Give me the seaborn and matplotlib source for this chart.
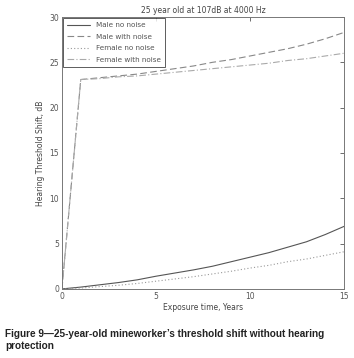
import numpy as np
import pandas as pd
import matplotlib
matplotlib.use("Agg")
import matplotlib.pyplot as plt
import seaborn as sns

years = [0, 1, 2, 3, 4, 5, 6, 7, 8, 9, 10, 11, 12, 13, 14, 15]
male_no_noise = [0, 0.2, 0.45, 0.7, 1.0, 1.4, 1.75, 2.1, 2.5, 3.0, 3.5, 4.0, 4.6, 5.2, 6.0, 6.9]
male_with_noise = [0, 23.1, 23.3, 23.5, 23.7, 24.0, 24.3, 24.6, 25.0, 25.3, 25.7, 26.1, 26.5, 27.0, 27.6, 28.3]
female_no_noise = [0, 0.1, 0.25, 0.4, 0.6, 0.85, 1.1, 1.35, 1.65, 1.95, 2.3, 2.6, 3.0, 3.3, 3.7, 4.1]
female_with_noise = [0, 23.1, 23.2, 23.4, 23.5, 23.7, 23.9, 24.1, 24.3, 24.5, 24.7, 24.9, 25.2, 25.4, 25.7, 26.0]
series_names = ["Male no noise", "Male with noise", "Female no noise", "Female with noise"]
title = "25 year old at 107dB at 4000 Hz"
xlabel = "Exposure time, Years"
ylabel = "Hearing Threshold Shift, dB"
caption = "Figure 9\u201425-year-old mineworker\u2019s threshold shift without hearing\nprotection"

sns.set_style("white")
plt.rcParams["font.family"] = ["DejaVu Sans"]

fig = plt.figure(figsize=(3.54, 3.58), dpi=100)
ax = fig.add_axes([0.175, 0.193, 0.797, 0.7595])

styles = [
    dict(color="#555555", linestyle="-", linewidth=0.8),
    dict(color="#888888", linestyle=(0, (6, 3)), linewidth=0.8),
    dict(color="#999999", linestyle=(0, (1, 2)), linewidth=0.8),
    dict(color="#aaaaaa", linestyle=(0, (6, 2, 1, 2)), linewidth=0.8),
]
all_vals = [male_no_noise, male_with_noise, female_no_noise, female_with_noise]
for name, vals, st in zip(series_names, all_vals, styles):
    df = pd.DataFrame({"x": years, "y": vals})
    sns.lineplot(data=df, x="x", y="y", ax=ax, label=name, **st)

ax.set_xlim(0, 15)
ax.set_ylim(0, 30)
ax.set_xticks([0, 5, 10, 15])
ax.set_yticks([0, 5, 10, 15, 20, 25, 30])
ax.tick_params(direction="in", length=3, width=0.6, labelsize=5.5, colors="#555555",
               top=True, right=True, pad=2)
for sp in ax.spines.values():
    sp.set_color("#777777")
    sp.set_linewidth(0.7)
ax.set_xlabel(xlabel, fontsize=5.5, color="#444444", labelpad=2)
ax.set_ylabel(ylabel, fontsize=5.5, color="#444444", labelpad=3)
ax.set_title(title, fontsize=5.5, color="#444444", pad=3)

leg = ax.legend(loc="upper left", fontsize=5.2, frameon=True, fancybox=False,
                borderaxespad=0.2, handlelength=3.2, labelspacing=0.75, borderpad=0.55)
leg.get_frame().set_edgecolor("#333333")
leg.get_frame().set_linewidth(0.7)
for t in leg.get_texts():
    t.set_color("#555555")

fig.text(0.014, 0.082, caption, fontsize=7.2, fontweight="bold", color="#222222",
         va="top", ha="left", linespacing=1.3,
         family=["Liberation Sans", "DejaVu Sans"])

fig.savefig("out.png", dpi=100)
